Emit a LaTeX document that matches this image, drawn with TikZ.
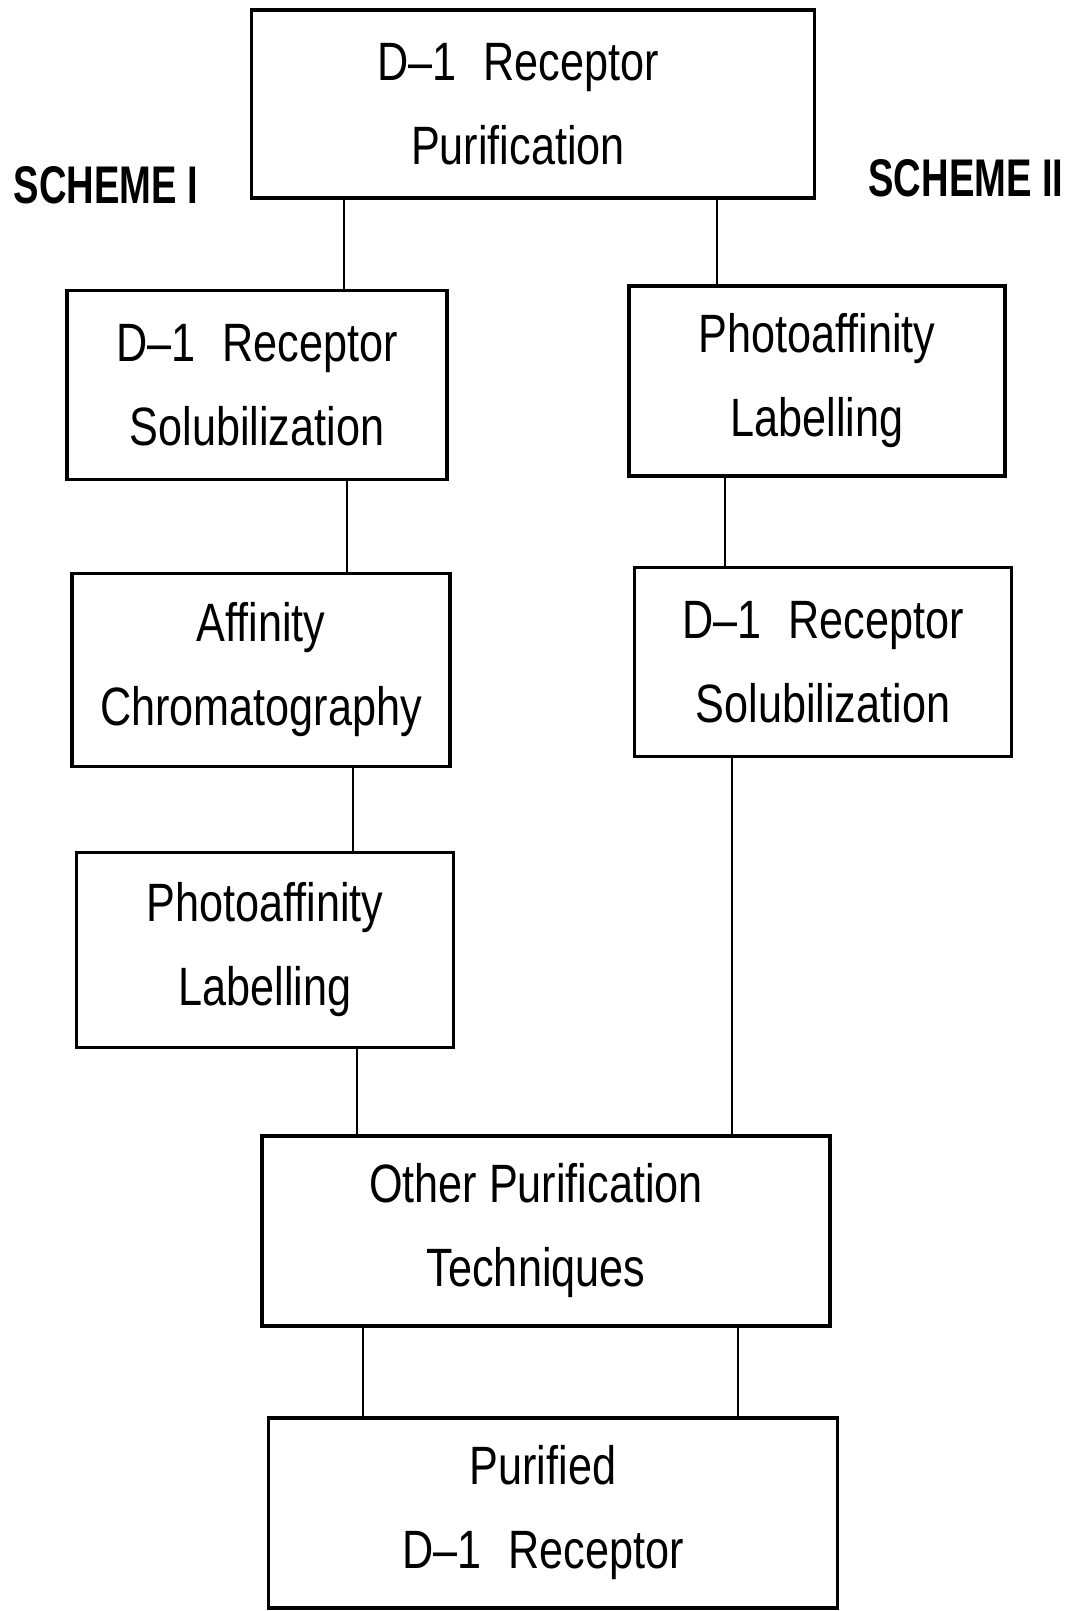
\documentclass[tikz,border=0pt]{standalone}
\usepackage{fontspec}
\setmainfont{Liberation Sans}[FakeStretch=0.8]
\newfontfamily\schemefont{Liberation Sans}[FakeStretch=0.72]
\begin{document}
\begin{tikzpicture}[x=1pt,y=-1pt,
  box/.style={draw, line width=3.8pt, align=center, inner sep=0pt,
    font=\fontsize{54}{84}\selectfont},
  link/.style={line width=2.4pt},
  schemelabel/.style={font=\schemefont\bfseries\fontsize{53}{60}\selectfont, inner sep=0pt}]
\useasboundingbox[fill=white] (0,0) rectangle (1073,1611);
\node[box, minimum width=563pt, minimum height=188pt] (top) at (533,104) {\hspace*{-30pt}D--1\hspace{0.5em}Receptor\\\hspace*{-30pt}Purification};
\node[schemelabel] (s1) at (106,185) {SCHEME I};
\node[schemelabel] (s2) at (966,178) {SCHEME II};
\node[box, minimum width=380pt, minimum height=189pt] (l1) at (257,385) {D--1\hspace{0.5em}Receptor\\Solubilization};
\node[box, minimum width=378pt, minimum height=193pt] (l2) at (261,670) {Affinity\\Chromatography};
\node[box, minimum width=377pt, minimum height=195pt] (l3) at (265,950) {Photoaffinity\\Labelling};
\node[box, minimum width=376pt, minimum height=190pt] (r1) at (817,381) {Photoaffinity\\Labelling};
\node[box, minimum width=377pt, minimum height=189pt] (r2) at (823,662) {D--1\hspace{0.5em}Receptor\\Solubilization};
\node[box, minimum width=568pt, minimum height=190pt] (oth) at (546,1231) {\hspace*{-20pt}Other Purification\\\hspace*{-20pt}Techniques};
\node[box, minimum width=569pt, minimum height=190pt] (pur) at (553,1513) {\hspace*{-20pt}Purified\\\hspace*{-20pt}D--1\hspace{0.5em}Receptor};
\draw[link] (top.south -| 344,0) -- (l1.north -| 344,0);
\draw[link] (top.south -| 717,0) -- (r1.north -| 717,0);
\draw[link] (l1.south -| 347,0) -- (l2.north -| 347,0);
\draw[link] (l2.south -| 353,0) -- (l3.north -| 353,0);
\draw[link] (l3.south -| 357,0) -- (oth.north -| 357,0);
\draw[link] (r1.south -| 725,0) -- (r2.north -| 725,0);
\draw[link] (r2.south -| 732,0) -- (oth.north -| 732,0);
\draw[link] (oth.south -| 363,0) -- (pur.north -| 363,0);
\draw[link] (oth.south -| 738,0) -- (pur.north -| 738,0);
\end{tikzpicture}
\end{document}
